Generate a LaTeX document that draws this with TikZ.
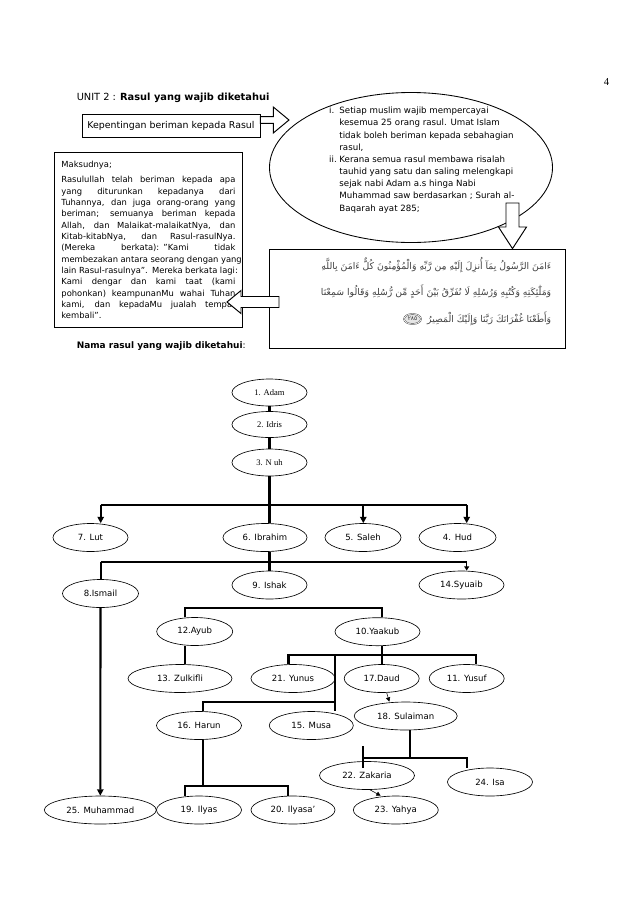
\documentclass[tikz,border=0pt]{standalone}
\usepackage{fontspec}
\setmainfont{DejaVu Sans}
\newfontfamily\serifname{Liberation Serif}
\newfontfamily\arabicfont[Script=Arabic]{DejaVu Sans}
\TeXXeTstate=1
\usetikzlibrary{arrows.meta,positioning,shapes.geometric}
\newdimen\pxu \pxu=0.03292cm
\newdimen\lebar \lebar=174\pxu
% one justified line of the Maksudnya box
\newcommand{\baris}[1]{\leavevmode\hbox to\lebar{\spaceskip=0.3em plus 1fil\relax #1}}

\begin{document}
\begin{tikzpicture}[
  x=0.03292cm, y=-0.03292cm,
  font=\fontsize{8}{10}\selectfont,
  nabi/.style={ellipse,draw,line width=0.6pt,inner sep=1pt,minimum width=#1\pxu,minimum height=28\pxu},
  nabi/.default=80,
  kotak/.style={draw,line width=0.8pt,inner sep=0pt},
  ayat/.style={anchor=east,text=black!75,font=\arabicfont\fontsize{8.7}{10}\selectfont},
  panah/.style={draw,line width=0.9pt,fill=white,line join=miter},
  cabang/.style={line width=2pt},
  turun/.style={cabang,-{Triangle[length=6pt,width=6pt]}},
  halus/.style={line width=0.5pt,-{Triangle[length=4pt,width=4pt]}},
]
\useasboundingbox (0,0) rectangle (638,903);

% page head
\node[font=\serifname\fontsize{10}{12}\selectfont] (hal) at (606.5,82) {4};
\node[anchor=base west,font=\fontsize{9.2}{11}\selectfont] (unit) at (73,100) {UNIT 2 : \textbf{Rasul yang wajib diketahui}};
\node[kotak,minimum width=178\pxu,minimum height=23\pxu,font=\fontsize{8.8}{10}\selectfont] (kep) at (171,125.5) {Kepentingan beriman kepada Rasul};

% ellipse
\node[ellipse,draw,line width=0.8pt,minimum width=283\pxu,minimum height=150\pxu] (pesan) at (411,167.5) {};
\node[anchor=north west,inner sep=0pt,font=\fontsize{8.1}{11.4}\selectfont] (isi) at (329,105) {%
  \begin{tabular}{@{}l@{\hspace{2.5pt}}l@{}}
  i. & Setiap muslim wajib mempercayai\\
     & kesemua 25 orang rasul. Umat Islam\\
     & tidak boleh beriman kepada sebahagian\\
     & rasul,\\
  ii. & Kerana semua rasul membawa risalah\\
     & tauhid yang satu dan saling melengkapi\\
     & sejak nabi Adam a.s hinga Nabi\\
     & Muhammad saw berdasarkan ; Surah al-\\
     & Baqarah ayat 285;
  \end{tabular}};

% boxes
\node[kotak,anchor=north west,minimum width=188\pxu,minimum height=175\pxu,text width=\lebar,inner xsep=7\pxu,align=left,font=\fontsize{7.85}{10.6}\selectfont] (maksud) at (54,152) {%
  Maksudnya;\\[4pt]
  \baris{Rasulullah telah beriman kepada apa}\\
  \baris{yang diturunkan kepadanya dari}\\
  \baris{Tuhannya, dan juga orang-orang yang}\\
  \baris{beriman; semuanya beriman kepada}\\
  \baris{Allah, dan Malaikat-malaikatNya, dan}\\
  \baris{Kitab-kitabNya, dan Rasul-rasulNya.}\\
  \baris{(Mereka berkata): "Kami tidak}\\
  \baris{membezakan antara seorang dengan yang}\\
  \baris{lain Rasul-rasulnya". Mereka berkata lagi:}\\
  \baris{Kami dengar dan kami taat (kami}\\
  \baris{pohonkan) keampunanMu wahai Tuhan}\\
  \baris{kami, dan kepadaMu jualah tempat}\\
  kembali".};
\node[kotak,minimum width=296\pxu,minimum height=99\pxu] (quran) at (417,298.5) {};
\node[ayat] (ayat1) at (555,265) {\beginR ءَامَنَ الرَّسُولُ بِمَآ أُنزِلَ إِلَيْهِ مِن رَّبِّهِ وَالْمُؤْمِنُونَ كُلٌّ ءَامَنَ بِاللَّهِ\endR};
\node[ayat] (ayat2) at (555,292) {\beginR وَمَلَٰٓئِكَتِهِ وَكُتُبِهِ وَرُسُلِهِ لَا نُفَرِّقُ بَيْنَ أَحَدٍ مِّن رُّسُلِهِ وَقَالُوا سَمِعْنَا\endR};
\node[ayat] (ayat3) at (555,319) {\beginR وَأَطَعْنَا غُفْرَانَكَ رَبَّنَا وَإِلَيْكَ الْمَصِيرُ\endR};
\node[ellipse,draw=black!75,double,fill=black!10,inner sep=0.5pt,minimum width=17\pxu,minimum height=10\pxu,text=black!80,font=\arabicfont\fontsize{5.5}{6}\selectfont,left=2pt of ayat3] (tanda) {٢٨٥};

% hollow arrows
\draw[panah] (kep.east |- 0,116.7) -- (273.3,116.7) -- (273.3,107) -- (289,120) -- (273.3,133) -- (273.3,123.3) -- (kep.east |- 0,123.3) -- cycle;
\draw[panah] (506,203) -- (519,203) -- (519,227) -- (526.5,227) -- (512.5,0 |- quran.north) -- (498.5,227) -- (506,227) -- cycle;
\draw[panah] (279,296.5) -- (241,296.5) -- (241,290.5) -- (227,302) -- (241,313.5) -- (241,307.5) -- (279,307.5) -- cycle;

\node[anchor=base west,font=\bfseries\fontsize{8.4}{10}\selectfont] (nama) at (73,348) {Nama rasul yang wajib diketahui\mdseries:};

% tree of rasul
\node[nabi=75,minimum height=27\pxu,font=\serifname\fontsize{8}{10}\selectfont] (adam) at (269.5,392.5) {1. Adam};
\node[nabi=75,minimum height=26\pxu,font=\serifname\fontsize{8}{10}\selectfont] (idris) at (269.5,424.5) {2. Idris};
\node[nabi=75,minimum height=27\pxu,font=\serifname\fontsize{8}{10}\selectfont] (nuh) at (269.5,462.5) {3. N uh};
\node[nabi=75] (lut) at (90.5,537.5) {7. Lut};
\node[nabi=84] (ibrahim) at (265,537.5) {6. Ibrahim};
\node[nabi=76] (saleh) at (363,537.5) {5. Saleh};
\node[nabi=77] (hud) at (457.5,537.5) {4. Hud};
\node[nabi=76] (ismail) at (100.5,593.5) {8.Ismail};
\node[nabi=75] (ishak) at (269.5,585) {9. Ishak};
\node[nabi=85] (syuaib) at (461.5,585) {14.Syuaib};
\node[nabi=76] (ayub) at (194.7,631.5) {12.Ayub};
\node[nabi=85] (yaakub) at (377.5,631.7) {10.Yaakub};
\node[nabi=104] (zulkifli) at (180,678.5) {13. Zulkifli};
\node[nabi=84] (yunus) at (293,678.5) {21. Yunus};
\node[nabi=75] (daud) at (381.7,678.5) {17.Daud};
\node[nabi=75] (yusuf) at (466.7,678.5) {11. Yusuf};
\node[nabi=85] (harun) at (199,725.5) {16. Harun};
\node[nabi=84] (musa) at (311.3,725.5) {15. Musa};
\node[nabi=103] (sulaiman) at (405.7,716) {18. Sulaiman};
\node[nabi=95] (zakaria) at (367,775.5) {22. Zakaria};
\node[nabi=85] (isa) at (490,782) {24. Isa};
\node[nabi=112] (muhammad) at (100.3,810) {25. Muhammad};
\node[nabi=85] (ilyas) at (199,810) {19. Ilyas};
\node[nabi=84] (ilyasa) at (293,810) {20. Ilyasa'};
\node[nabi=85] (yahya) at (395.8,810) {23. Yahya};

% connectors
\draw[cabang] (adam) -- (idris) -- (nuh);
\draw[cabang] (nuh.south) -- (nuh.south |- ibrahim.north);
\draw[cabang] (100.7,505) -- (466.7,505);
\foreach \x/\n in {100.7/lut,363.3/saleh,466.7/hud}
  \draw[turun] (\x,505) -- (\x,505 |- \n.north);
\draw[cabang] (nuh.south |- ibrahim.south) -- (nuh.south |- ishak.north);
\draw[cabang] (100.7,561.7) -- (466.7,561.7);
\draw[cabang] (100.7,561.7) -- (100.7,0 |- ismail.north);
\draw[line width=1pt,-{Triangle[length=4pt,width=4.5pt]}] (466.7,561.7) -- (466.7,0 |- syuaib.north);
\draw[turun] (ismail) -- (muhammad);
\draw[cabang] (185,0 |- ayub.north) |- (382.3,608) -- (382.3,0 |- yaakub.north);
\draw[cabang] (185,0 |- ayub.south) -- (185,0 |- zulkifli.north);
\draw[cabang] (382.3,0 |- yaakub.south) -- (382.3,0 |- daud.north);
\draw[line width=2.6pt] (288.3,0 |- yunus.north) |- (476,655) -- (476,0 |- yusuf.north);
\draw[cabang] (335,655) -- (335,710.7);
\draw[cabang] (335,701.7) -| (203.3,0 |- harun.north);
\draw[cabang] (203.3,0 |- harun.south) -- (203.3,786);
\draw[cabang] (185,0 |- ilyas.north) |- (288.3,786) -- (288.3,0 |- ilyasa.north);
\draw[halus] (386.7,0 |- daud.south) -- (389.3,0 |- sulaiman.north);
\draw[cabang] (410,0 |- sulaiman.south) -- (410,757.7);
\draw[cabang] (363.3,757.7) -| (466.7,0 |- isa.north);
\draw[cabang] (363.3,746) -- (363.3,767.7);
\draw[halus] (370,0 |- zakaria.south) -- (380.7,0 |- yahya.north);
\end{tikzpicture}
\end{document}
